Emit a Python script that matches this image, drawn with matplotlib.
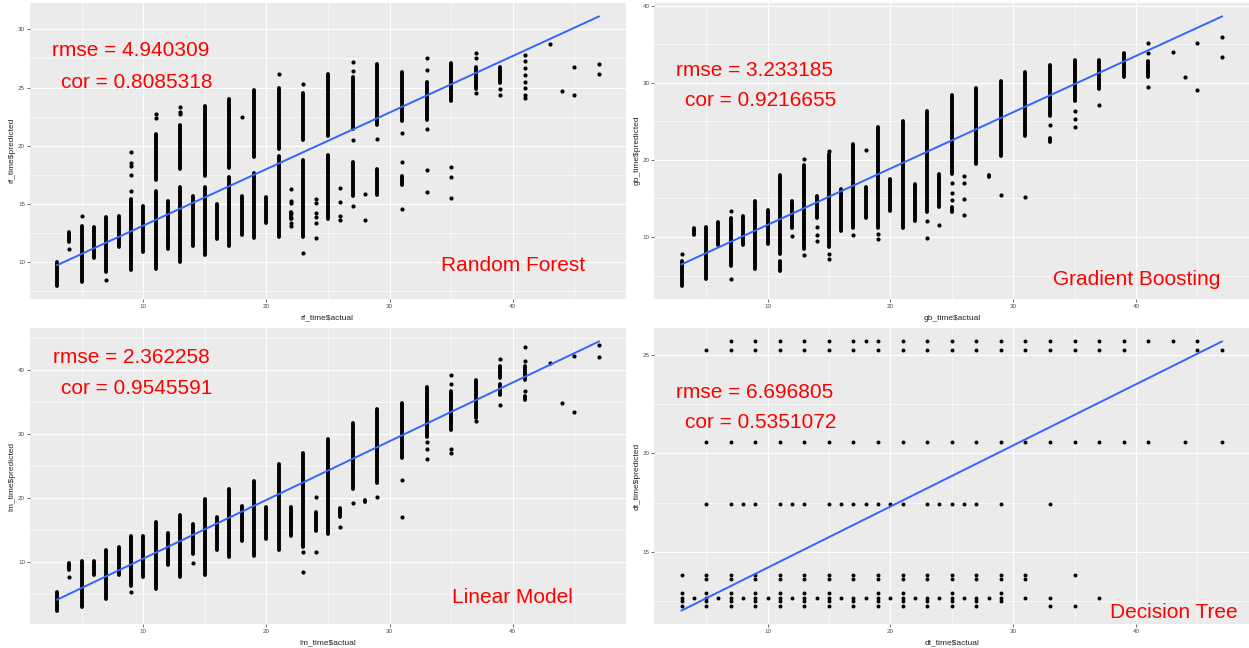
import matplotlib
matplotlib.use("Agg")
import matplotlib.pyplot as plt
from matplotlib.ticker import FixedLocator
import numpy as np

W, H = 1249, 648

# ---------------- Random Forest ----------------
rf_seg_x  = [3, 4, 5, 6, 7, 8, 9, 10, 11, 11, 12, 13, 13, 14, 15, 15, 16, 17, 17, 18, 19, 19, 20, 21, 21, 22, 23, 23, 25, 25, 27, 27, 29, 29, 31, 31, 33, 35, 37, 39]
rf_seg_lo = [8.0, 11.7, 8.3, 10.4, 9.2, 11.3, 9.3, 10.9, 9.4, 17.1, 11.1, 10.0, 18.0, 11.4, 10.6, 17.4, 12.0, 11.4, 18.1, 12.3, 12.1, 19.0, 13.4, 12.2, 19.7, 13.7, 12.2, 20.5, 13.7, 20.8, 15.7, 21.4, 15.8, 21.8, 16.6, 22.1, 22.2, 23.8, 24.9, 25.4]
rf_seg_hi = [10.0, 12.6, 13.1, 13.0, 13.9, 14.0, 15.4, 14.8, 16.1, 21.0, 15.3, 16.5, 21.8, 15.7, 16.5, 23.4, 15.0, 17.3, 24.0, 15.7, 17.7, 24.8, 15.6, 19.1, 25.0, 14.3, 18.8, 24.5, 19.2, 26.2, 18.6, 25.9, 18.0, 27.0, 17.4, 26.3, 25.5, 27.1, 26.8, 26.8]
rf_pt_x = [4, 5, 7, 9, 9, 9, 9, 9, 11, 11, 13, 13, 13, 18, 21,
           22, 22, 22, 22, 22, 22, 22, 23, 23, 24, 24, 24, 24, 24, 24,
           26, 26, 26, 26, 27, 27, 27, 27, 28, 28, 29, 31, 31, 31,
           33, 33, 33, 33, 33, 35, 35, 35, 37, 37, 37, 39, 39,
           41, 41, 41, 41, 41, 41, 41, 41, 43, 44, 45, 45, 47, 47]
rf_pt_y = [11.1, 14.0, 8.5, 16.1, 17.5, 18.3, 18.5, 19.45, 22.4, 22.7, 22.7, 22.9, 23.3, 22.5, 26.2,
           16.3, 15.3, 15.1, 14.2, 13.8, 13.4, 13.1, 10.8, 25.3, 15.4, 15.1, 14.2, 13.9, 13.4, 12.1,
           16.4, 15.2, 14.0, 13.6, 27.2, 26.4, 20.5, 14.8, 15.9, 13.6, 20.6, 21.1, 18.6, 14.6,
           27.5, 26.5, 21.4, 17.9, 16.0, 18.2, 17.3, 15.5, 28.0, 27.5, 24.5, 24.9, 24.4,
           27.8, 27.3, 26.7, 26.1, 25.5, 25.0, 24.4, 24.1, 28.7, 24.7, 26.8, 24.4, 27.0, 26.2]
rf_fit_x = [3, 47]
rf_fit_y = [9.75, 31.1]

# ---------------- Gradient Boosting ----------------
gb_seg_x  = [3, 4, 5, 6, 7, 8, 9, 10, 11, 11, 12, 13, 14, 15, 16, 17, 18, 19, 20, 21, 22, 23, 24, 25, 25, 27, 28, 29, 31, 33, 33, 35, 37, 39, 41]
gb_seg_lo = [3.7, 10.2, 4.6, 8.9, 6.2, 8.9, 5.9, 9.1, 7.8, 5.6, 11.1, 8.5, 12.4, 8.7, 10.8, 11.1, 12.4, 11.1, 13.4, 11.1, 12.1, 13.3, 13.9, 18.2, 13.3, 19.5, 17.8, 20.5, 23.1, 25.7, 22.3, 27.6, 29.2, 30.7, 30.8]
gb_seg_hi = [6.9, 11.2, 11.3, 12.0, 12.4, 12.7, 14.7, 13.5, 18.1, 6.9, 14.7, 19.3, 15.3, 20.8, 16.2, 22.0, 16.5, 24.3, 17.5, 25.1, 16.9, 26.4, 18.2, 28.4, 13.9, 29.3, 18.1, 30.2, 31.4, 32.3, 22.8, 32.9, 32.9, 33.8, 32.8]
gb_pt_x = [3, 7, 7, 12, 13, 13, 14, 14, 14, 15, 15, 15, 17, 18, 19, 19, 23, 23, 24,
           25, 25, 25, 26, 26, 26, 26, 29, 31, 33, 35, 35, 35, 37,
           41, 41, 41, 43, 44, 45, 45, 47, 47]
gb_pt_y = [7.8, 13.4, 4.6, 10.1, 20.1, 7.6, 11.3, 10.3, 9.5, 7.8, 7.2, 21.1, 10.3, 21.3, 10.4, 9.8, 12.1, 9.9, 11.5,
           17.0, 15.7, 14.8, 17.9, 17.0, 14.9, 12.9, 15.5, 15.2, 24.5, 26.3, 25.3, 24.3, 27.1,
           35.1, 33.9, 29.4, 34.0, 30.7, 35.1, 29.0, 35.9, 33.4]
gb_fit_x = [3, 47]
gb_fit_y = [6.45, 38.6]

# ---------------- Linear Model ----------------
lm_seg_x  = [3, 4, 5, 6, 7, 8, 9, 10, 11, 12, 13, 14, 15, 16, 17, 18, 19, 20, 21, 22, 23, 24, 25, 26, 27, 28, 29, 31, 33, 35, 37, 39, 39, 41, 41]
lm_seg_lo = [2.4, 8.8, 2.9, 7.9, 4.2, 7.9, 6.3, 7.6, 5.8, 9.6, 7.6, 11.2, 7.9, 11.8, 10.7, 13.3, 11.0, 13.6, 11.8, 14.1, 12.3, 14.9, 14.4, 17.1, 21.4, 19.4, 22.4, 26.3, 29.5, 30.6, 32.6, 38.8, 36.1, 38.5, 35.4]
lm_seg_hi = [5.3, 9.8, 10.1, 10.2, 11.8, 12.4, 14.1, 14.1, 16.3, 14.6, 17.4, 15.9, 19.8, 17.1, 21.4, 18.8, 22.7, 18.6, 25.3, 18.6, 27.1, 17.8, 29.3, 18.5, 31.8, 19.7, 33.9, 34.8, 37.3, 36.8, 38.5, 40.6, 37.8, 40.6, 35.9]
lm_pt_x = [4, 9, 14, 23, 23, 24, 24, 26, 27, 29, 31, 31, 33, 33, 33, 35, 35, 35, 35, 37,
           39, 39, 41, 41, 41, 43, 44, 45, 45, 47, 47]
lm_pt_y = [7.6, 5.3, 9.8, 11.5, 8.5, 20.2, 11.5, 15.4, 19.2, 20.1, 22.8, 17.0, 28.7, 27.6, 26.1, 39.3, 37.9, 27.6, 27.1, 32.0,
           41.8, 34.6, 43.6, 41.5, 36.7, 41.2, 34.9, 42.2, 33.4, 44.0, 42.1]
lm_fit_x = [3, 47]
lm_fit_y = [4.1, 44.5]

# ---------------- Decision Tree (predicted levels and actual values present) ----------------
dt_levels = [25.7, 25.25, 20.6, 17.4, 13.8, 13.6, 12.9, 12.62, 12.47, 12.22]
dt_level_x = [
    [7, 9, 11, 13, 15, 17, 18, 19, 21, 23, 25, 27, 29, 31, 33, 35, 37, 39, 41, 43, 45],
    [5, 7, 9, 11, 13, 15, 17, 19, 21, 23, 25, 27, 29, 31, 33, 35, 37, 39, 45, 47],
    [5, 7, 9, 11, 13, 15, 17, 19, 21, 23, 25, 27, 29, 31, 33, 35, 37, 39, 41, 44, 47],
    [5, 7, 8, 9, 11, 12, 13, 15, 16, 17, 18, 19, 20, 21, 23, 24, 25, 26, 27, 29, 33],
    [3, 5, 7, 9, 11, 13, 15, 17, 19, 21, 23, 25, 27, 29, 31, 35],
    [5, 7, 9, 11, 13, 15, 17, 19, 21, 23, 25, 27, 29, 31],
    [3, 5, 7, 9, 11, 13, 15, 19, 21, 25, 29],
    [3, 4, 5, 6, 7, 8, 9, 10, 11, 12, 13, 14, 15, 16, 17, 18, 19, 20, 21, 22, 23, 24, 25, 26, 27, 28, 29, 31, 33, 37],
    [3, 5, 7, 9, 11, 13, 15, 17, 19, 21, 23, 25, 27, 29],
    [3, 5, 7, 9, 11, 13, 15, 17, 19, 21, 23, 25, 27, 33, 35],
]
dt_fit_x = [3, 47]
dt_fit_y = [12.0, 25.7]

x_name = ["rf_time$actual", "gb_time$actual", "lm_time$actual", "dt_time$actual"]
y_name = ["rf_time$predicted", "gb_time$predicted", "lm_time$predicted", "dt_time$predicted"]
rmse_txt = ["rmse = 4.940309", "rmse = 3.233185", "rmse = 2.362258", "rmse = 6.696805"]
cor_txt = ["cor = 0.8085318", "cor = 0.9216655", "cor = 0.9545591", "cor = 0.5351072"]
model_txt = ["Random Forest", "Gradient Boosting", "Linear Model", "Decision Tree"]

plt.rcParams['font.family'] = ['Liberation Sans', 'DejaVu Sans']
fig = plt.figure(figsize=(W / 100, H / 100), dpi=100)
fig.patch.set_facecolor('white')

# panel boxes in pixels: left, right, top, bottom
boxes = [(30, 626, 3, 299), (654.5, 1249, 3, 299), (30, 626, 328, 624), (654.5, 1249, 328, 624)]
ymaj = [[10, 15, 20, 25, 30], [10, 20, 30, 40], [10, 20, 30, 40], [15, 20, 25]]
ymin_ = [[7.5, 12.5, 17.5, 22.5, 27.5, 32.5], [5, 15, 25, 35], [5, 15, 25, 35, 45], [12.5, 17.5, 22.5]]
# label positions in pixels (center x, baseline y)
rmse_pos = [(131, 56.5), (755, 76), (131, 363), (755, 397.5)]
cor_pos = [(137, 87.5), (761, 106.5), (137, 394), (761, 427.5)]
model_pos = [(513, 271), (1137, 285), (512.5, 603), (1173.5, 618)]
xlab_pos = [(327, 318), (952, 318), (328, 643), (952, 643)]
ylab_pos = [(12, 150), (637, 150), (12, 476), (637, 476)]

segs = [(rf_seg_x, rf_seg_lo, rf_seg_hi), (gb_seg_x, gb_seg_lo, gb_seg_hi), (lm_seg_x, lm_seg_lo, lm_seg_hi), None]
pts = [(rf_pt_x, rf_pt_y), (gb_pt_x, gb_pt_y), (lm_pt_x, lm_pt_y), None]
fits = [(rf_fit_x, rf_fit_y), (gb_fit_x, gb_fit_y), (lm_fit_x, lm_fit_y), (dt_fit_x, dt_fit_y)]

for i in range(4):
    l, r, t, b = boxes[i]
    ax = fig.add_axes([l / W, 1 - b / H, (r - l) / W, (b - t) / H])
    ax.set_facecolor('#EBEBEB')
    for s in ax.spines.values():
        s.set_visible(False)

    if i < 3:
        sx, slo, shi = segs[i]
        lc = ax.vlines(sx, slo, shi, colors='black', linewidth=2.8)
        lc.set_capstyle('round')
        px, py = pts[i]
        ax.scatter(px, py, s=9, c='black', linewidths=0, zorder=3)
        allx = list(sx) + list(px) + list(fits[i][0])
        ally = list(slo) + list(shi) + list(py) + list(fits[i][1])
    else:
        allx, ally = list(dt_fit_x), list(dt_fit_y)
        for lev, xs in zip(dt_levels, dt_level_x):
            ax.scatter(xs, [lev] * len(xs), s=8, c='black', linewidths=0, zorder=3)
            allx += xs
            ally += [lev] * len(xs)

    fx, fy = fits[i]
    ax.plot(fx, fy, color='#3366FF', lw=1.4, zorder=4)

    x0, x1 = min(allx), max(allx)
    y0, y1 = min(ally), max(ally)
    ax.set_xlim(x0 - 0.05 * (x1 - x0), x1 + 0.05 * (x1 - x0))
    ax.set_ylim(y0 - 0.05 * (y1 - y0), y1 + 0.05 * (y1 - y0))

    ax.xaxis.set_major_locator(FixedLocator([10, 20, 30, 40]))
    ax.xaxis.set_minor_locator(FixedLocator([5, 15, 25, 35, 45]))
    ax.yaxis.set_major_locator(FixedLocator(ymaj[i]))
    ax.yaxis.set_minor_locator(FixedLocator(ymin_[i]))
    ax.set_axisbelow(True)
    ax.grid(which='major', color='white', lw=0.8)
    ax.grid(which='minor', color='white', lw=0.4)
    ax.tick_params(which='major', length=2, width=0.5, color='#333333',
                   labelsize=4.5, labelcolor='#4D4D4D', pad=1.5)
    ax.tick_params(which='minor', length=0)

    fig.text(xlab_pos[i][0] / W, 1 - xlab_pos[i][1] / H, x_name[i], ha='center', va='center',
             fontsize=6, color='#222222')
    fig.text(ylab_pos[i][0] / W, 1 - ylab_pos[i][1] / H, y_name[i], ha='center', va='center',
             rotation=90, fontsize=6, color='#222222')
    fig.text(rmse_pos[i][0] / W, 1 - rmse_pos[i][1] / H, rmse_txt[i], ha='center', va='baseline',
             fontsize=15, color='#FF0000')
    fig.text(cor_pos[i][0] / W, 1 - cor_pos[i][1] / H, cor_txt[i], ha='center', va='baseline',
             fontsize=15, color='#FF0000')
    fig.text(model_pos[i][0] / W, 1 - model_pos[i][1] / H, model_txt[i], ha='center', va='baseline',
             fontsize=15, color='#FF0000')

fig.savefig('out.png', dpi=100, facecolor='white')
